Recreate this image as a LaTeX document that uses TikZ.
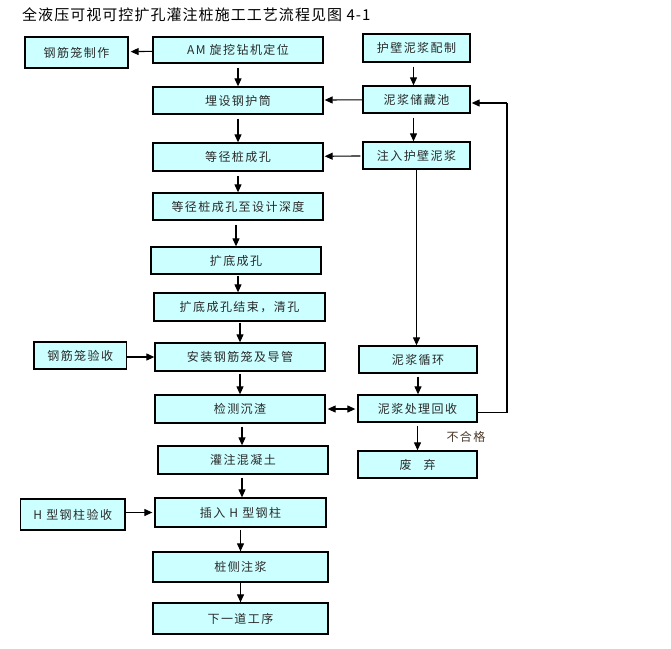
\documentclass[tikz,border=0pt]{standalone}
\usepackage{fontspec}
\usetikzlibrary{arrows.meta}
\newfontfamily\cjk[LetterSpace=12]{Noto Sans CJK SC}
\newfontfamily\cjktitle[LetterSpace=7]{Noto Sans CJK SC}
\definecolor{boxfill}{HTML}{CCFFFF}
\definecolor{boxtext}{HTML}{2A2A2A}
\definecolor{labeltext}{HTML}{4A3A2A}
\tikzset{
  box/.style={draw=black, line width=1.3pt, fill=boxfill, inner sep=0pt,
    text=boxtext, font=\cjk\fontsize{12}{12}\selectfont, align=center},
  arr/.style={draw=black, line width=1.1pt, -{Triangle[length=8pt,width=7pt]}},
  arrboth/.style={draw=black, line width=1.1pt, {Triangle[length=8pt,width=7pt]}-{Triangle[length=8pt,width=7pt]}},
  ln/.style={draw=black, line width=1.1pt}
}
\begin{document}
\begin{tikzpicture}[x=1pt,y=-1pt]
\useasboundingbox (0,0) rectangle (671,648);
% title
\node[anchor=west, inner sep=0pt, font=\cjktitle\fontsize{15}{15}\selectfont] (title) at (22,15) {全液压可视可控扩孔灌注桩施工工艺流程见图 4-1};
% boxes
\node[box, minimum width=103pt, minimum height=31pt] (gjzz) at (76.5,52.5) {钢筋笼制作};
\node[box, minimum width=170pt, minimum height=26pt] (am) at (238,50) {AM 旋挖钻机定位};
\node[box, minimum width=107pt, minimum height=28pt] (hbpz) at (416.5,48) {护壁泥浆配制};
\node[box, minimum width=170pt, minimum height=27pt] (mshz) at (238,100.5) {埋设钢护筒};
\node[box, minimum width=107pt, minimum height=27pt] (njcc) at (416.5,99.5) {泥浆储藏池};
\node[box, minimum width=170pt, minimum height=28pt] (djcc) at (238,157) {等径桩成孔};
\node[box, minimum width=107pt, minimum height=27pt] (zr) at (416.5,155.5) {注入护壁泥浆};
\node[box, minimum width=170pt, minimum height=27pt] (sd) at (238,206.5) {等径桩成孔至设计深度};
\node[box, minimum width=170pt, minimum height=27pt] (kd) at (236,260.5) {扩底成孔};
\node[box, minimum width=171pt, minimum height=28pt] (js) at (239.5,307) {扩底成孔结束，清孔};
\node[box, minimum width=92.5pt, minimum height=27pt] (gjys) at (80.25,355.5) {钢筋笼验收};
\node[box, minimum width=170pt, minimum height=28pt] (az) at (240,357) {安装钢筋笼及导管};
\node[box, minimum width=118pt, minimum height=27pt] (njxh) at (418,359.5) {泥浆循环};
\node[box, minimum width=170pt, minimum height=28pt] (jc) at (240,409) {检测沉渣};
\node[box, minimum width=119pt, minimum height=27pt] (njcl) at (417.5,408.5) {泥浆处理回收};
\node[box, minimum width=170pt, minimum height=28pt] (gz) at (243,460) {灌注混凝土};
\node[box, minimum width=119pt, minimum height=27pt] (fq) at (417.5,464.5) {废\hspace{1em}弃};
\node[box, minimum width=104.5pt, minimum height=31pt] (hys) at (72.75,514.5) {H 型钢柱验收};
\node[box, minimum width=171pt, minimum height=29pt] (cr) at (240.5,512.5) {插入 H 型钢柱};
\node[box, minimum width=175pt, minimum height=30pt] (zc) at (240.5,567) {桩侧注浆};
\node[box, minimum width=175pt, minimum height=31pt] (xy) at (240.5,618.5) {下一道工序};
% label
\node[inner sep=0pt, text=labeltext, font=\cjk\fontsize{12}{12}\selectfont] (bhg) at (466,437) {不合格};
% horizontal arrows
\draw[arr, shorten >=2pt] (am) -- (gjzz);
\draw[arr, shorten >=1pt] (njcc) -- (mshz);
\draw[arr, shorten >=1pt, shorten <=2pt] (zr) -- (djcc);
\draw[arr] (gjys.east |- az.west) -- (az.west);
\draw[arrboth, shorten >=2pt, shorten <=2pt] (jc.east) -- (njcl.west |- jc.east);
\draw[arr, shorten >=2pt] (hys.east |- cr.west) -- (cr.west);
% vertical arrows, main column
\draw[arr, shorten <=4pt] (mshz.north |- am.south) -- (mshz.north);
\draw[arr, shorten <=4pt] (mshz.south) -- (djcc.north);
\draw[arr, shorten <=4pt] (djcc.south) -- (sd.north);
\draw[arr, shorten <=4pt] (sd.south -| kd.north) -- (kd.north);
\draw[arr, shorten <=1pt] ([xshift=2pt]kd.south) -- ([xshift=2pt]kd.south |- js.north);
\draw[arr, shorten <=1pt] (js.south -| az.north) -- (az.north);
\draw[arr, shorten <=2pt] (az.south) -- (az.south |- jc.north);
\draw[arr, shorten <=3pt] ([xshift=2pt]jc.south) -- ([xshift=2pt]jc.south |- gz.north);
\draw[arr, shorten <=3pt] (gz.south -| 242,0) -- (cr.north -| 242,0);
\draw[arr, shorten <=2pt] (cr.south -| zc.north) -- (zc.north);
\draw[arr] (zc.south) -- (xy.north);
% right column
\draw[arr, shorten <=4pt] ([xshift=-3pt]hbpz.south) -- ([xshift=-3pt]hbpz.south |- njcc.north);
\draw[arr, shorten <=4pt] ([xshift=-3pt]njcc.south) -- ([xshift=-3pt]njcc.south |- zr.north);
\draw[arr] (zr.south) -- (zr.south |- njxh.north);
\draw[arr, shorten <=3pt] (njxh.south) -- (njxh.south |- njcl.north);
\draw[arr, shorten <=3pt] (njcl.south) -- (fq.north);
% feedback loop
\coordinate (fb1) at (507,412.5);
\coordinate (fb2) at (507,103);
\draw[ln] ([yshift=-4pt]njcl.east) -- (fb1) -- (fb2);
\draw[arr, shorten >=1pt] (fb2) -- (njcc.east |- fb2);
\end{tikzpicture}
\end{document}
